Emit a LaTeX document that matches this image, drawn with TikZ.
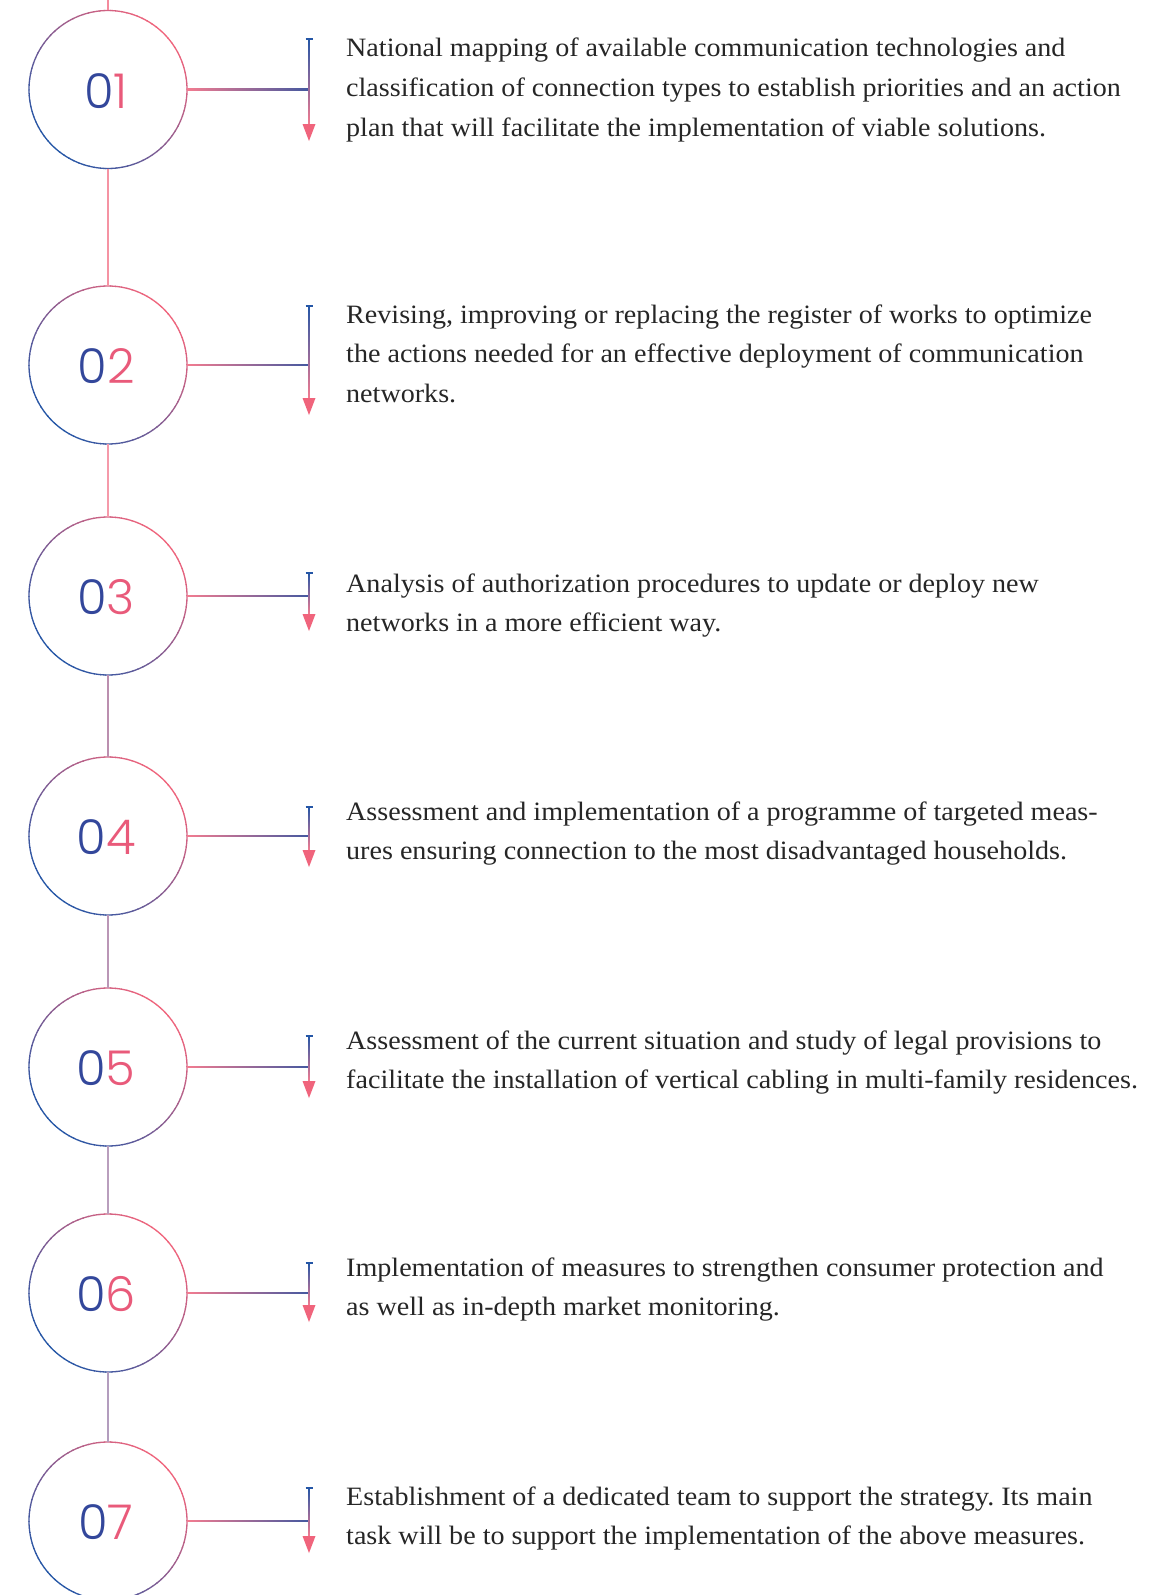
\documentclass[tikz,border=0pt]{standalone}
\usepackage{fontspec}
\setmainfont{Liberation Serif}[FakeStretch=1.06]
\newfontfamily\numfont{Poppins Light}
\usetikzlibrary{calc}
\frenchspacing
\definecolor{cblue}{HTML}{2456A6}
\definecolor{cpink}{HTML}{F0647C}
\definecolor{txt}{HTML}{262626}
\definecolor{nzero}{HTML}{33479B}
\definecolor{ntwo}{HTML}{E95A7A}
\newcommand\txtline[1]{\hbox{#1}}
\tikzset{
  ring/.style={circle, minimum size=158pt, inner sep=0pt},
  ringseg/.style={line width=1.3pt},
  numtext/.style={font=\numfont\fontsize{48}{48}\selectfont, inner sep=0pt},
  paratext/.style={anchor=base west, inner sep=0pt, text=txt, font=\fontsize{26.5}{39.6}\selectfont},
  vlink/.style={line width=1.4pt},
}
% #1 id, #2 centre y, #3 bracket top y, #4 arrow tip y, #5 second digit, #6 first baseline y, #7 lines
\newcommand\stage[7]{%
  \node[ring] (c#1) at (108,-#2) {};
  \foreach \ang in {0,4,...,356}{%
    \pgfmathsetmacro\mixv{50+50*cos(\ang+2-45)}%
    \draw[ringseg, cpink!\mixv!cblue] ($(c#1.center)+(\ang:79)$) arc[start angle=\ang, end angle=\ang+4.6, radius=79];
  }
  \node[numtext] (n#1) at ($(c#1.center)+(-2,-1.5)$) {\textcolor{nzero}{0}\textcolor{ntwo}{#5}};
  \coordinate (b#1) at (309,-#2);
  \coordinate (t#1) at (309,-#3);
  \coordinate (e#1) at (309,-#4);
  \coordinate (a#1) at ($(e#1)+(0,17)$);
  \shade[left color=cpink!85!white, right color=cblue!85!cpink] ($(c#1.east)+(0,0.7)$) rectangle ($(b#1)+(0,-0.7)$);
  \shade[top color=cblue, bottom color=cpink!85!white] ($(t#1)+(-0.8,0)$) rectangle ($(a#1)+(0.8,0)$);
  \draw[cblue, line width=1.6pt] ($(t#1)+(-3.5,0)$) -- ($(t#1)+(3.5,0)$);
  \fill[cpink] ($(a#1)+(-6.5,0)$) -- ($(a#1)+(6.5,0)$) -- (e#1) -- cycle;
  \node[paratext] (p#1) at (346,-#6) {\vtop{#7}};
}
\begin{document}
\begin{tikzpicture}[x=1pt,y=1pt]
\useasboundingbox (0,0) rectangle (1174,-1595);
\fill[white] (0,0) rectangle (1174,-1595);

\stage{1}{89.5}{39}{141}{1}{57}{%
  \txtline{National mapping of available communication technologies and}
  \txtline{classification of connection types to establish priorities and an action}
  \txtline{plan that will facilitate the implementation of viable solutions.}}
\stage{2}{365}{306}{415}{2}{323}{%
  \txtline{Revising, improving or replacing the register of works to optimize}
  \txtline{the actions needed for an effective deployment of communication}
  \txtline{networks.}}
\stage{3}{596}{573}{631}{3}{592}{%
  \txtline{Analysis of authorization procedures to update or deploy new}
  \txtline{networks in a more efficient way.}}
\stage{4}{836}{807}{867}{4}{820}{%
  \txtline{Assessment and implementation of a programme of targeted meas-}
  \txtline{ures ensuring connection to the most disadvantaged households.}}
\stage{5}{1067}{1036}{1098}{5}{1049}{%
  \txtline{Assessment of the current situation and study of legal provisions to}
  \txtline{facilitate the installation of vertical cabling in multi-family residences.}}
\stage{6}{1293}{1263}{1322}{6}{1276}{%
  \txtline{Implementation of measures to strengthen consumer protection and}
  \txtline{as well as in-depth market monitoring.}}
\stage{7}{1521}{1488}{1553}{7}{1505}{%
  \txtline{Establishment of a dedicated team to support the strategy. Its main}
  \txtline{task will be to support the implementation of the above measures.}}

\coordinate (top) at (108,0);
\draw[vlink, cpink!75!white] (top) -- (c1.north);
\draw[vlink, cpink!70!white] (c1.south) -- (c2.north);
\draw[vlink, cpink!65!white] (c2.south) -- (c3.north);
\draw[vlink, cpink!60!cblue!70!white] (c3.south) -- (c4.north);
\draw[vlink, cpink!55!cblue!65!white] (c4.south) -- (c5.north);
\draw[vlink, cpink!50!cblue!60!white] (c5.south) -- (c6.north);
\draw[vlink, cpink!45!cblue!60!white] (c6.south) -- (c7.north);
\end{tikzpicture}
\end{document}
